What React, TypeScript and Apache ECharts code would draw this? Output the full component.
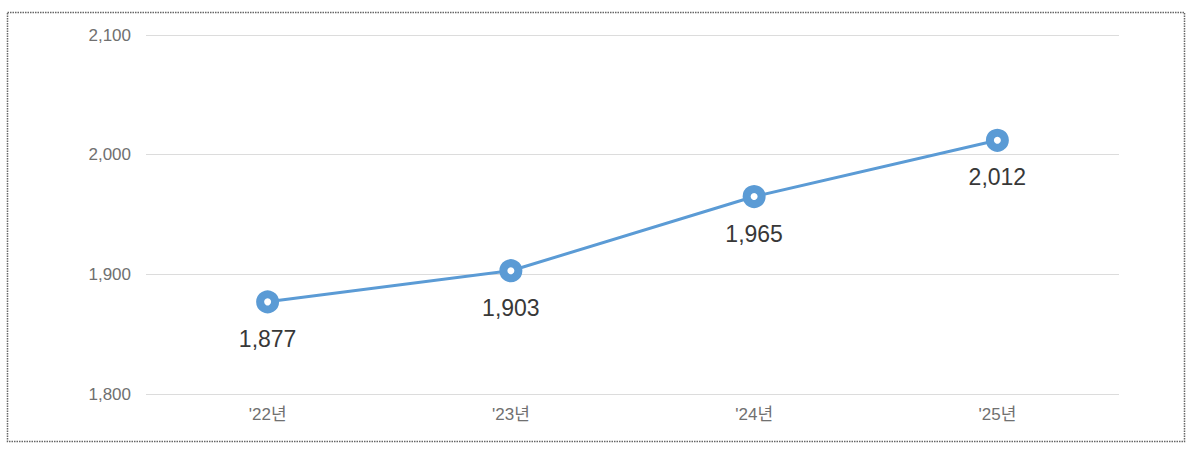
import React, { useEffect, useRef } from "react";
import * as echarts from "echarts";

const categories = ["'22년", "'23년", "'24년", "'25년"];
const values = [1877, 1903, 1965, 2012];
const yTicks = { min: 1800, max: 2100, interval: 100 };

export default function App() {
  const ref = useRef<HTMLDivElement>(null);
  useEffect(() => {
    document.body.style.margin = "0";
    const chart = echarts.init(ref.current!, null, { renderer: "svg" });
    const font = "'Liberation Sans', 'Noto Sans CJK KR', sans-serif";
    chart.setOption({
      animation: false,
      backgroundColor: "#ffffff",
      grid: { left: 146, right: 81, top: 35, bottom: 57 },
      xAxis: {
        type: "category",
        data: categories,
        boundaryGap: true,
        axisLine: { show: false },
        axisTick: { show: false },
        axisLabel: { color: "#707070", fontSize: 17, fontFamily: font, margin: 12 },
      },
      yAxis: {
        type: "value",
        min: yTicks.min,
        max: yTicks.max,
        interval: yTicks.interval,
        axisLine: { show: false },
        axisTick: { show: false },
        splitLine: { lineStyle: { color: "#dcdcdc", width: 1 } },
        axisLabel: {
          color: "#707070",
          fontSize: 17,
          fontFamily: font,
          margin: 15,
          formatter: (v: number) => v.toLocaleString("en-US"),
        },
      },
      graphic: [
        {
          type: "rect",
          shape: { x: 7.5, y: 12.5, width: 1177, height: 429 },
          style: { fill: "none", stroke: "#666", lineWidth: 1.5, lineDash: [1.5, 1] },
          silent: true,
        },
      ],
      series: [
        {
          type: "line",
          data: values,
          symbol: "circle",
          symbolSize: 15,
          lineStyle: { color: "#5b9bd5", width: 3 },
          itemStyle: { color: "#ffffff", borderColor: "#5b9bd5", borderWidth: 8 },
          label: {
            show: true,
            position: "bottom",
            distance: 14,
            color: "#383838",
            fontSize: 23,
            fontFamily: font,
            formatter: (p: any) => Number(p.value).toLocaleString("en-US"),
          },
        },
      ],
    });
    return () => chart.dispose();
  }, []);
  return <div ref={ref} style={{ width: 1200, height: 451 }} />;
}
